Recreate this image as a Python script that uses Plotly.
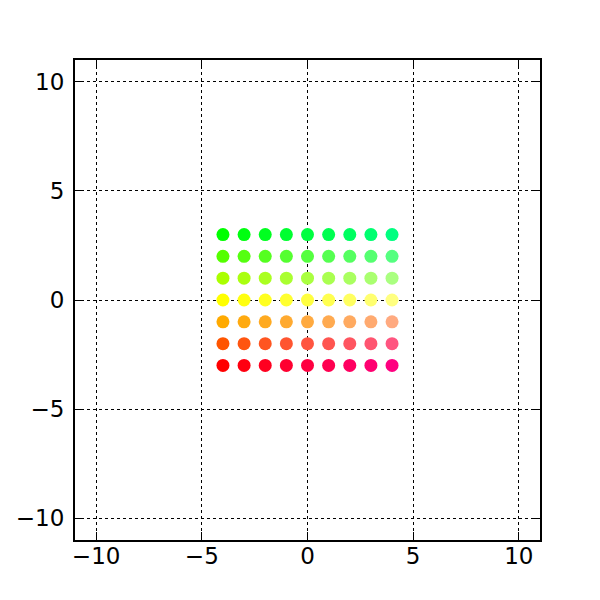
import plotly.graph_objects as go

# Grid of points
x_vals = [-4, -3, -2, -1, 0, 1, 2, 3, 4]
y_vals = [3, 2, 1, 0, -1, -2, -3]

# Colours: rows (y = 3 .. -3) x columns (x = -4 .. 4)
row_rg = [(0, 255), (85, 255), (170, 255), (255, 255), (255, 170), (255, 85), (255, 0)]
col_b = [0, 16, 32, 48, 64, 80, 96, 112, 128]

xs, ys, colors = [], [], []
for yi, (r, g) in zip(y_vals, row_rg):
    for xi, b in zip(x_vals, col_b):
        xs.append(xi)
        ys.append(yi)
        colors.append(f"rgb({r},{g},{b})")

tick_vals = [-10, -5, 0, 5, 10]

fig = go.Figure(go.Scatter(
    x=xs, y=ys, mode="markers",
    marker=dict(size=13, color=colors, line=dict(width=0)),
    showlegend=False,
))

axis_common = dict(
    tickvals=tick_vals,
    showgrid=True, gridcolor="black", gridwidth=1, griddash="dot",
    zeroline=False,
    showline=True, linecolor="black", linewidth=2, mirror="ticks",
    ticks="inside", ticklen=8, tickwidth=1, tickcolor="black",
    tickfont=dict(family="DejaVu Sans", size=23, color="black"),
)

fig.update_xaxes(range=[-11, 11], ticklabelstandoff=-6, **axis_common)
fig.update_yaxes(range=[-11, 11], ticklabelstandoff=4, **axis_common)

fig.update_layout(
    width=600, height=600,
    margin=dict(l=67, r=68, t=52, b=68, autoexpand=False),
    plot_bgcolor="white", paper_bgcolor="white",
)

fig.write_html("out.html")
